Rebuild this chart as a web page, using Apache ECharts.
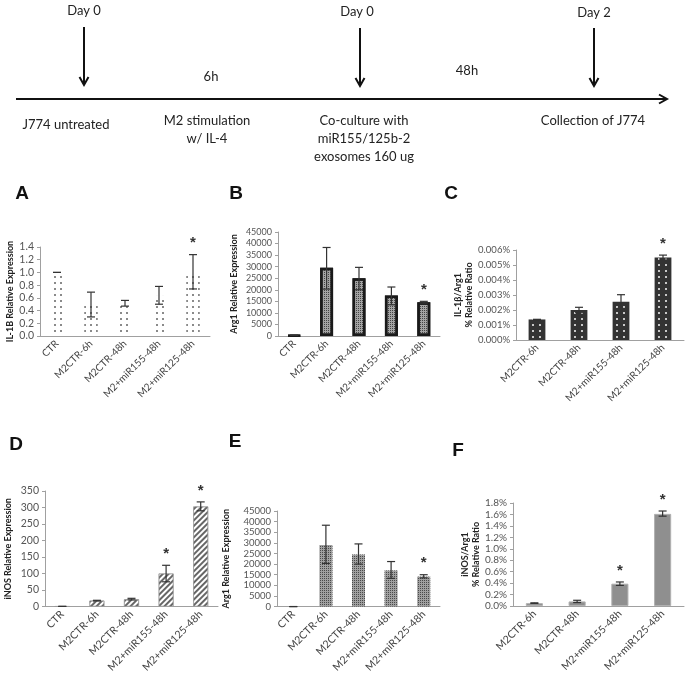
<!DOCTYPE html>
<html>
<head>
<meta charset="utf-8">
<title>J774 timeline and expression panels</title>
<script src="https://cdn.jsdelivr.net/npm/echarts@6/dist/echarts.min.js"></script>
<style>
  html, body { margin: 0; padding: 0; background: #fff; }
  #chart { width: 685px; height: 675px; }
</style>
</head>
<body>
<div id="chart"></div>
<script type="text/javascript">
// ---- data ----
var cats5 = ['CTR', 'M2CTR-6h', 'M2CTR-48h', 'M2+miR155-48h', 'M2+miR125-48h'];
var cats4 = ['M2CTR-6h', 'M2CTR-48h', 'M2+miR155-48h', 'M2+miR125-48h'];

// A  IL-1B
var il1bMean = [1.0, 0.5, 0.5, 0.63, 1.0];
var il1bLow  = [1.0, 0.30, 0.47, 0.50, 0.74];
var il1bHigh = [1.0, 0.69, 0.56, 0.78, 1.28];
var il1bStar = [0, 0, 0, 0, 1];
var il1bTicks = [0, 1.4, 0.2];

// B  Arg1
var arg1Mean = [300, 29500, 25000, 17500, 14600];
var arg1Low  = [300, 20300, 20000, 13500, 14200];
var arg1High = [300, 38300, 29700, 21200, 15000];
var arg1Star = [0, 0, 0, 0, 1];
var arg1Ticks = [0, 45000, 5000];

// C  IL-1b / Arg1 (%)
var ilRatioMean = [0.00137, 0.0020, 0.00255, 0.0055];
var ilRatioLow  = [0.00137, 0.00182, 0.00210, 0.00540];
var ilRatioHigh = [0.00137, 0.00218, 0.00302, 0.00566];
var ilRatioStar = [0, 0, 0, 1];
var ilRatioTicks = [0, 0.006, 0.001];

// D  iNOS
var inosMean = [0.5, 18, 22, 100, 303];
var inosLow  = [0.5, 17, 20, 75, 290];
var inosHigh = [0.5, 19, 25, 125, 317];
var inosStar = [0, 0, 0, 1, 1];
var inosTicks = [0, 350, 50];

// E  Arg1 (second run)
var arg1bMean = [0, 29000, 24500, 17000, 14100];
var arg1bLow  = [0, 20300, 20000, 13300, 13500];
var arg1bHigh = [0, 38300, 29500, 21200, 15000];
var arg1bStar = [0, 0, 0, 0, 1];

// F  iNOS / Arg1 (%)
var inosRatioMean = [0.05, 0.08, 0.39, 1.61];
var inosRatioLow  = [0.045, 0.06, 0.36, 1.57];
var inosRatioHigh = [0.055, 0.10, 0.42, 1.66];
var inosRatioStar = [0, 0, 1, 1];
var inosRatioTicks = [0, 1.8, 0.2];

// ---- helpers ----
var fontFam = 'Lato, "Open Sans", sans-serif';

function errData(low, high, star) {
    return low.map(function (v, i) { return [i, v, high[i], star[i]]; });
}

function errRender(params, api) {
    var i = api.value(0);
    var lo = api.coord([i, api.value(1)]);
    var hi = api.coord([i, api.value(2)]);
    var w = 4;
    var st = { stroke: '#333', lineWidth: 1.2 };
    var kids = [
        { type: 'line', shape: { x1: lo[0], y1: lo[1], x2: hi[0], y2: hi[1] }, style: st },
        { type: 'line', shape: { x1: lo[0] - w, y1: lo[1], x2: lo[0] + w, y2: lo[1] }, style: st },
        { type: 'line', shape: { x1: hi[0] - w, y1: hi[1], x2: hi[0] + w, y2: hi[1] }, style: st }
    ];
    if (api.value(3)) {
        kids.push({
            type: 'text',
            style: { text: '*', x: hi[0], y: hi[1] - 19, align: 'center', verticalAlign: 'top',
                     font: 'bold 15px "Liberation Sans"', fill: '#333' }
        });
    }
    return { type: 'group', children: kids };
}

var grids = [
    { left: 40,  top: 247, width: 170, height: 89 },   // A
    { left: 278, top: 232, width: 162, height: 104 },  // B
    { left: 516, top: 250, width: 168, height: 90 },   // C
    { left: 45,  top: 491, width: 173, height: 122 },  // D
    { left: 277, top: 511, width: 163, height: 98 },   // E
    { left: 513, top: 503, width: 171, height: 103 }   // F
];

var xCats = [cats5, cats5, cats4, cats5, cats5, cats4];
var xFont = [10, 10, 10, 10.5, 10.5, 10.5];

var xAxes = xCats.map(function (c, k) {
    return {
        type: 'category', gridIndex: k, data: c,
        axisLine: { lineStyle: { color: '#a0a0a0' } },
        axisTick: { length: 4, lineStyle: { color: '#a0a0a0' } },
        axisLabel: { interval: 0, rotate: 45, margin: 6, fontSize: xFont[k], color: '#444', fontFamily: fontFam }
    };
});

function plain(v) { return String(v); }

function yAxis(k, ticks, name, gap, fsize, fmt) {
    return {
        type: 'value', gridIndex: k, min: ticks[0], max: ticks[1], interval: ticks[2],
        name: name, nameLocation: 'middle', nameGap: gap, nameRotate: 90,
        nameTextStyle: { fontSize: 9, fontWeight: 'bold', color: '#222', fontFamily: fontFam, lineHeight: 11 },
        axisLine: { show: true, lineStyle: { color: '#a0a0a0' } },
        axisTick: { show: true, length: 3, lineStyle: { color: '#a0a0a0' } },
        splitLine: { show: false },
        axisLabel: { margin: 6, fontSize: fsize, color: '#555', fontFamily: fontFam, formatter: fmt || plain }
    };
}

var yAxes = [
    yAxis(0, il1bTicks, 'IL-1B Relative Expression', 23, 10.5, function (v) { return v.toFixed(1); }),
    yAxis(1, arg1Ticks, 'Arg1 Relative Expression', 38, 9, null),
    yAxis(2, ilRatioTicks, 'IL-1β/Arg1\n% Relative Ratio', 40, 9.5, function (v) { return v.toFixed(3) + '%'; }),
    yAxis(3, inosTicks, 'iNOS Relative Expression', 31, 10.5, null),
    yAxis(4, arg1Ticks, 'Arg1 Relative Expression', 45, 9.5, null),
    yAxis(5, inosRatioTicks, 'iNOS/Arg1\n% Relative Ratio', 31, 10, function (v) { return v.toFixed(1) + '%'; })
];

var barStyles = [
    { color: '#fff', decal: { symbol: 'rect', symbolSize: 1, color: '#8a8a8a', dashArrayX: [1.3, 3.2], dashArrayY: [1.3, 3.2] } },
    { color: '#a4a4a4', borderColor: '#1a1a1a', borderWidth: 2.5,
      decal: { symbol: 'rect', symbolSize: 1, color: '#444', dashArrayX: [1, 1], dashArrayY: [1, 1] } },
    { color: '#333', decal: { symbol: 'rect', symbolSize: 1, color: '#c8c8c8', dashArrayX: [1.3, 4.5], dashArrayY: [1.3, 3.7] } },
    { color: '#fff', borderColor: '#999', borderWidth: 0.6,
      decal: { symbol: 'rect', symbolSize: 1, color: '#666', dashArrayX: [1, 0], dashArrayY: [1.6, 2], rotation: -Math.PI / 4 } },
    { color: '#a0a0a0', decal: { symbol: 'rect', symbolSize: 1, color: '#4a4a4a', dashArrayX: [1, 1], dashArrayY: [1, 1] } },
    { color: '#8f8f8f', borderColor: '#b0b0b0', borderWidth: 1 }
];

var means = [il1bMean, arg1Mean, ilRatioMean, inosMean, arg1bMean, inosRatioMean];
var errs = [
    errData(il1bLow, il1bHigh, il1bStar),
    errData(arg1Low, arg1High, arg1Star),
    errData(ilRatioLow, ilRatioHigh, ilRatioStar),
    errData(inosLow, inosHigh, inosStar),
    errData(arg1bLow, arg1bHigh, arg1bStar),
    errData(inosRatioLow, inosRatioHigh, inosRatioStar)
];
var barW = ['40%', '40%', '40%', '43%', '40%', '40%'];

var series = [];
means.forEach(function (m, k) {
    series.push({
        type: 'bar', xAxisIndex: k, yAxisIndex: k, data: m, barWidth: barW[k],
        itemStyle: barStyles[k], silent: true
    });
    series.push({
        type: 'custom', xAxisIndex: k, yAxisIndex: k, data: errs[k],
        encode: { x: 0, y: [1, 2] }, renderItem: errRender, z: 5, silent: true
    });
});

// ---- timeline on top ----
var tl = [];
function txt(s, x, y, size, weight) {
    tl.push({ type: 'text', x: x, y: y, style: { text: s, align: 'center', verticalAlign: 'middle',
        font: (weight || 'normal') + ' ' + size + 'px ' + fontFam, fill: '#222' } });
}
function downArrow(x, y1, y2) {
    tl.push({ type: 'line', shape: { x1: x, y1: y1, x2: x, y2: y2 }, style: { stroke: '#111', lineWidth: 2 } });
    tl.push({ type: 'polyline', shape: { points: [[x - 4.5, y2 - 8], [x, y2], [x + 4.5, y2 - 8]] },
        style: { stroke: '#111', lineWidth: 2, fill: null } });
}
tl.push({ type: 'line', shape: { x1: 16, y1: 99, x2: 667, y2: 99 }, style: { stroke: '#111', lineWidth: 2 } });
tl.push({ type: 'polyline', shape: { points: [[659, 94.5], [667, 99], [659, 103.5]] }, style: { stroke: '#111', lineWidth: 2, fill: null } });
downArrow(84, 27, 85);
downArrow(360, 28, 86);
downArrow(594, 28, 86);
txt('Day 0', 84, 11, 13);
txt('Day 0', 357, 12, 13);
txt('Day 2', 594, 13, 13);
txt('6h', 211, 77, 13);
txt('48h', 467, 71, 13);
txt('J774 untreated', 66, 125, 13);
txt('M2 stimulation', 207, 121, 13);
txt('w/ IL-4', 207, 139, 13);
txt('Co-culture with', 364, 121, 13);
txt('miR155/125b-2', 364, 139, 13);
txt('exosomes 160 ug', 364, 157, 13);
txt('Collection of J774', 593, 121, 13);

// panel letters
var letters = [['A', 22, 194], ['B', 236, 194], ['C', 451, 194], ['D', 16, 445], ['E', 235, 442], ['F', 458, 451]];
letters.forEach(function (l) {
    tl.push({ type: 'text', x: l[1], y: l[2], style: { text: l[0], align: 'center', verticalAlign: 'middle',
        font: 'bold 19px "Liberation Sans"', fill: '#111' } });
});

var chart = echarts.init(document.getElementById('chart'), null, { renderer: 'canvas' });
chart.setOption({
    animation: false,
    backgroundColor: '#fff',
    grid: grids,
    xAxis: xAxes,
    yAxis: yAxes,
    series: series,
    graphic: tl
});
</script>
</body>
</html>
